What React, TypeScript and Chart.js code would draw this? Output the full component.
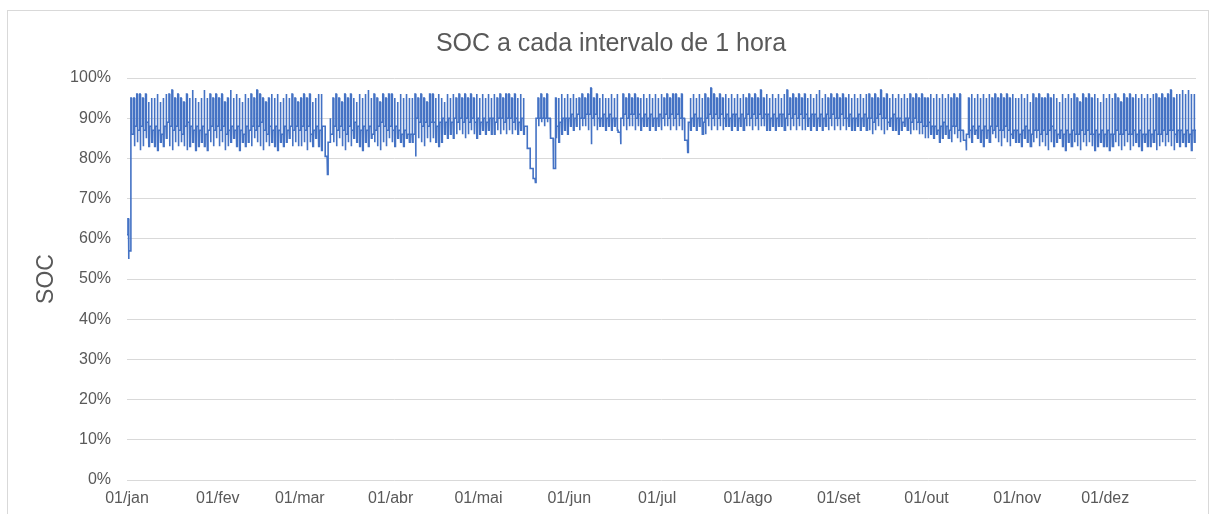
import React, { useEffect, useRef } from "react";
import { Chart, registerables } from "chart.js";

Chart.register(...registerables);

// Month tick positions (day of year) and labels
const MONTH_STARTS = [0, 31, 59, 90, 120, 151, 181, 212, 243, 273, 304, 334];
const MONTH_LABELS = ["01/jan", "01/fev", "01/mar", "01/abr", "01/mai", "01/jun", "01/jul", "01/ago", "01/set", "01/out", "01/nov", "01/dez"];
const Y_TICKS = [0, 10, 20, 30, 40, 50, 60, 70, 80, 90, 100];

// Daily maximum SOC (%) reached during charge
const peakSoc = [
  // jan
  65, 95, 95, 96, 96, 95, 96, 94, 95, 95, 96, 94, 95, 96, 96, 97, 95, 96, 95, 94, 96, 95, 97, 95, 94, 95, 97, 95, 96, 95, 96,
  // fev
  95, 96, 94, 95, 97, 95, 96, 95, 94, 96, 95, 96, 95, 97, 96, 95, 94, 95, 96, 95, 96, 94, 95, 96, 95, 96, 95, 94,
  // mar
  95, 96, 95, 96, 94, 95, 96, 96, 88, 80.5, 90, 95, 96, 95, 94, 96, 95, 96, 95, 94, 96, 95, 96, 97, 95, 96, 95, 94, 96, 95, 96,
  // abr
  96, 95, 94, 96, 95, 96, 95, 95, 96, 95, 96, 95, 94, 96, 96, 95, 96, 95, 94, 96, 95, 96, 95, 96, 95, 96, 95, 96, 95, 96,
  // mai
  95, 96, 95, 96, 95, 96, 95, 96, 95, 96, 96, 95, 96, 95, 96, 95, 88, 82.5, 77.5, 75, 95, 96, 95, 96, 90, 85, 95, 95, 96, 95, 96,
  // jun
  95, 96, 95, 95, 96, 95, 96, 97.5, 95, 96, 95, 96, 95, 95, 96, 95, 96, 86.5, 96, 95, 96, 95, 96, 95, 95, 96, 95, 96, 95, 96,
  // jul
  95, 96, 95, 96, 95, 96, 96, 95, 96, 90, 84.5, 95, 96, 95, 96, 95, 96, 95, 97.5, 96, 95, 96, 95, 96, 95, 96, 95, 96, 95, 96, 95,
  // ago
  96, 95, 96, 95, 97, 95, 96, 95, 96, 95, 96, 95, 96, 97, 95, 96, 95, 96, 95, 96, 95, 96, 95, 96, 97, 95, 96, 95, 96, 95, 96,
  // set
  95, 96, 95, 96, 95, 96, 95, 96, 95, 96, 96, 95, 96, 95, 97, 95, 96, 95, 96, 95, 96, 95, 96, 95, 96, 95, 96, 95, 96, 95,
  // out
  95, 96, 95, 96, 95, 96, 95, 96, 95, 96, 95, 96, 87, 84.5, 95, 96, 95, 96, 95, 96, 95, 96, 95, 96, 95, 96, 95, 96, 95, 96, 95,
  // nov
  95, 96, 95, 96, 94, 96, 95, 96, 95, 95, 96, 95, 96, 95, 94, 96, 95, 96, 95, 96, 95, 94, 96, 95, 96, 95, 96, 95, 94, 96,
  // dez
  95, 96, 95, 96, 95, 94, 96, 95, 96, 95, 96, 95, 96, 95, 96, 95, 96, 96, 95, 96, 95, 96, 97, 95, 96, 96, 97, 96, 97, 96, 96,
];

// Daily minimum SOC (%) reached during discharge
const lowSoc = [
  // jan
  55, 86, 83, 84, 82, 83, 85, 83, 84, 83, 82, 84, 83, 85, 83, 82, 84, 83, 84, 83, 82, 83, 84, 82, 83, 84, 83, 82, 84, 83, 85,
  // fev
  83, 84, 82, 83, 84, 85, 83, 82, 84, 83, 84, 83, 85, 84, 83, 82, 84, 83, 84, 83, 82, 84, 83, 84, 85, 83, 84, 83,
  // mar
  83, 84, 82, 84, 83, 85, 83, 82, 88, 76, 86, 84, 83, 85, 83, 82, 84, 83, 85, 84, 83, 82, 84, 83, 85, 84, 83, 82, 84, 83, 85,
  // abr
  84, 83, 85, 84, 83, 85, 84, 84, 80.5, 85, 84, 83, 85, 84, 85, 84, 83, 84, 86, 85, 86, 85, 86, 87, 86, 85, 86, 87, 86, 85,
  // mai
  86, 87, 86, 87, 86, 86, 87, 86, 87, 86, 87, 86, 87, 86, 87, 86, 88, 82.5, 77.5, 74, 88, 89, 88, 89, 90, 81, 85, 84, 86, 87, 86,
  // jun
  88, 87, 88, 87, 88, 88, 87, 83.5, 88, 87, 88, 88, 87, 88, 87, 88, 87, 83.5, 88, 87, 88, 88, 87, 88, 87, 88, 88, 87, 88, 87,
  // jul
  88, 87, 88, 88, 87, 88, 87, 88, 87, 84.5, 81.5, 87, 88, 87, 88, 86, 86, 88, 87, 88, 87, 88, 87, 88, 88, 87, 88, 87, 88, 87, 88,
  // ago
  88, 87, 88, 87, 88, 88, 87, 87, 88, 87, 88, 88, 87, 88, 87, 88, 87, 88, 87, 87, 88, 87, 88, 87, 88, 87, 88, 87, 88, 87, 88,
  // set
  87, 88, 87, 88, 87, 87, 88, 87, 88, 87, 87, 86, 87, 88, 87, 86, 87, 88, 87, 87, 86, 87, 88, 87, 86, 87, 87, 86, 86, 85,
  // out
  85, 86, 85, 86, 84, 85, 86, 85, 84, 86, 85, 84, 84.5, 82, 85, 84, 86, 85, 84, 83, 85, 84, 86, 85, 84, 83, 85, 84, 83, 85, 84,
  // nov
  84, 83, 85, 84, 83, 84, 85, 83, 84, 83, 82, 84, 83, 84, 85, 83, 82, 84, 83, 84, 83, 82, 84, 83, 84, 83, 82, 83, 84, 83,
  // dez
  83, 82, 83, 84, 83, 82, 83, 84, 82, 83, 84, 83, 82, 84, 83, 83, 84, 82, 83, 84, 83, 84, 83, 82, 84, 83, 84, 83, 84, 82, 84,
];

// SOC (%) at the start of each day (resting level between cycles)
const baseSoc = [
  // jan
  61, 57, 86, 88, 87, 88, 87, 89, 88, 87, 88, 87, 86, 88, 89, 88, 87, 88, 87, 86, 88, 89, 88, 87, 88, 87, 88, 86, 87, 88, 87,
  // fev
  88, 87, 88, 86, 87, 88, 87, 88, 87, 86, 88, 87, 88, 87, 88, 89, 87, 86, 88, 87, 88, 87, 86, 88, 87, 88, 87, 88,
  // mar
  87, 88, 87, 88, 86, 87, 88, 87, 88, 80.5, 84, 86, 88, 87, 88, 87, 86, 88, 87, 89, 88, 87, 88, 87, 88, 86, 87, 88, 89, 88, 87,
  // abr
  88, 87, 88, 87, 86, 87, 86, 86, 86, 90, 89, 88, 89, 88, 89, 89, 88, 89, 90, 89, 90, 89, 90, 89, 90, 89, 90, 89, 90, 89,
  // mai
  90, 89, 90, 89, 90, 90, 89, 90, 90, 89, 90, 90, 89, 90, 89, 90, 88, 82.5, 77.5, 75, 90, 90, 90, 90, 90, 85, 77.5, 88, 89, 90, 90,
  // jun
  90, 91, 90, 91, 90, 90, 91, 91, 90, 91, 90, 90, 91, 90, 91, 90, 90, 86.5, 90, 91, 90, 91, 91, 90, 91, 90, 91, 90, 91, 90,
  // jul
  90, 91, 90, 91, 90, 91, 90, 91, 90, 90, 84.5, 89, 90, 91, 90, 90, 89, 90, 91, 90, 91, 90, 91, 90, 91, 90, 91, 91, 90, 91, 90,
  // ago
  91, 90, 91, 90, 91, 90, 91, 91, 90, 91, 90, 91, 91, 90, 91, 90, 91, 90, 91, 90, 91, 90, 91, 91, 90, 91, 90, 91, 90, 91, 90,
  // set
  90, 91, 90, 90, 91, 90, 90, 91, 90, 91, 90, 90, 89, 90, 91, 90, 90, 89, 90, 91, 90, 90, 89, 90, 90, 89, 90, 89, 89, 88,
  // out
  88, 89, 88, 88, 87, 88, 89, 88, 87, 88, 88, 87, 87, 84.5, 86, 87, 88, 87, 88, 87, 88, 87, 88, 87, 88, 87, 87, 88, 87, 86, 87,
  // nov
  87, 86, 87, 88, 87, 86, 87, 87, 86, 87, 86, 87, 88, 87, 86, 87, 86, 87, 86, 87, 86, 86, 87, 86, 87, 86, 86, 87, 86, 87,
  // dez
  86, 87, 86, 86, 87, 86, 86, 87, 86, 86, 87, 86, 87, 86, 86, 87, 86, 87, 86, 86, 87, 86, 87, 87, 86, 87, 87, 86, 87, 86, 87,
];

const FONT = "'Liberation Sans', Arial, sans-serif";
const TEXT_COLOR = "#595959";
const LINE_COLOR = "#4472C4";

function buildSeries() {
  const pts: { x: number; y: number }[] = [];
  const n = baseSoc.length;
  for (let d = 0; d < n; d++) {
    const b = baseSoc[d];
    const p = peakSoc[d];
    const l = lowSoc[d];
    const next = d + 1 < n ? baseSoc[d + 1] : b;
    pts.push({ x: d, y: b });
    pts.push({ x: d + 0.33, y: b });
    pts.push({ x: d + 0.33, y: p });
    pts.push({ x: d + 0.5, y: p });
    pts.push({ x: d + 0.5, y: l });
    pts.push({ x: d + 0.67, y: l });
    pts.push({ x: d + 0.67, y: next });
  }
  pts.push({ x: n, y: baseSoc[n - 1] });
  return pts;
}

const borderPlugin = {
  id: "outerBorder",
  beforeDraw(chart: any) {
    const ctx = chart.ctx;
    ctx.save();
    ctx.fillStyle = "#ffffff";
    ctx.fillRect(0, 0, chart.width, chart.height);
    ctx.strokeStyle = "#d9d9d9";
    ctx.lineWidth = 1;
    ctx.strokeRect(7.5, 10.5, 1201, 1000);
    ctx.restore();
  },
};

export default function App() {
  const canvasRef = useRef<HTMLCanvasElement | null>(null);

  useEffect(() => {
    document.body.style.margin = "0";
    const canvas = canvasRef.current;
    if (!canvas) return;
    const chart = new Chart(canvas, {
      type: "line",
      data: {
        datasets: [
          {
            label: "SOC",
            data: buildSeries(),
            borderColor: LINE_COLOR,
            borderWidth: 1.6,
            pointRadius: 0,
            tension: 0,
            fill: false,
          },
        ],
      },
      plugins: [borderPlugin],
      options: {
        animation: false,
        responsive: false,
        devicePixelRatio: 1,
        parsing: false,
        normalized: true,
        layout: { padding: { top: 29, left: 26, right: 20, bottom: 0 } },
        plugins: {
          legend: { display: false },
          tooltip: { enabled: false },
          title: {
            display: true,
            text: "SOC a cada intervalo de 1 hora",
            color: TEXT_COLOR,
            font: { family: FONT, size: 25, weight: "normal" },
            padding: { top: 0, bottom: 19 },
          },
        },
        scales: {
          x: {
            type: "linear",
            min: 0,
            max: 365,
            grid: { display: false },
            border: { display: false },
            afterBuildTicks: (scale: any) => {
              scale.ticks = MONTH_STARTS.map((v) => ({ value: v }));
            },
            afterFit: (scale: any) => {
              scale.height = 34;
            },
            ticks: {
              autoSkip: false,
              maxRotation: 0,
              minRotation: 0,
              padding: 1,
              color: TEXT_COLOR,
              font: { family: FONT, size: 16 },
              callback: (value: any) => {
                const i = MONTH_STARTS.indexOf(Number(value));
                return i >= 0 ? MONTH_LABELS[i] : "";
              },
            },
          },
          y: {
            type: "linear",
            min: 0,
            max: 100,
            afterBuildTicks: (scale: any) => {
              scale.ticks = Y_TICKS.map((v) => ({ value: v }));
            },
            afterFit: (scale: any) => {
              scale.width = 101;
            },
            grid: { color: "#d9d9d9", lineWidth: 1, drawTicks: false },
            border: { display: false },
            ticks: {
              padding: 16,
              color: TEXT_COLOR,
              font: { family: FONT, size: 16 },
              callback: (value: any) => `${value}%`,
            },
            title: {
              display: true,
              text: "SOC",
              color: TEXT_COLOR,
              font: { family: FONT, size: 23 },
              padding: { top: 7, bottom: 0 },
            },
          },
        },
      },
    });
    return () => chart.destroy();
  }, []);

  return (
    <div style={{ width: 1216, height: 514, position: "relative" }}>
      <canvas ref={canvasRef} width={1216} height={514} style={{ display: "block" }} />
    </div>
  );
}
